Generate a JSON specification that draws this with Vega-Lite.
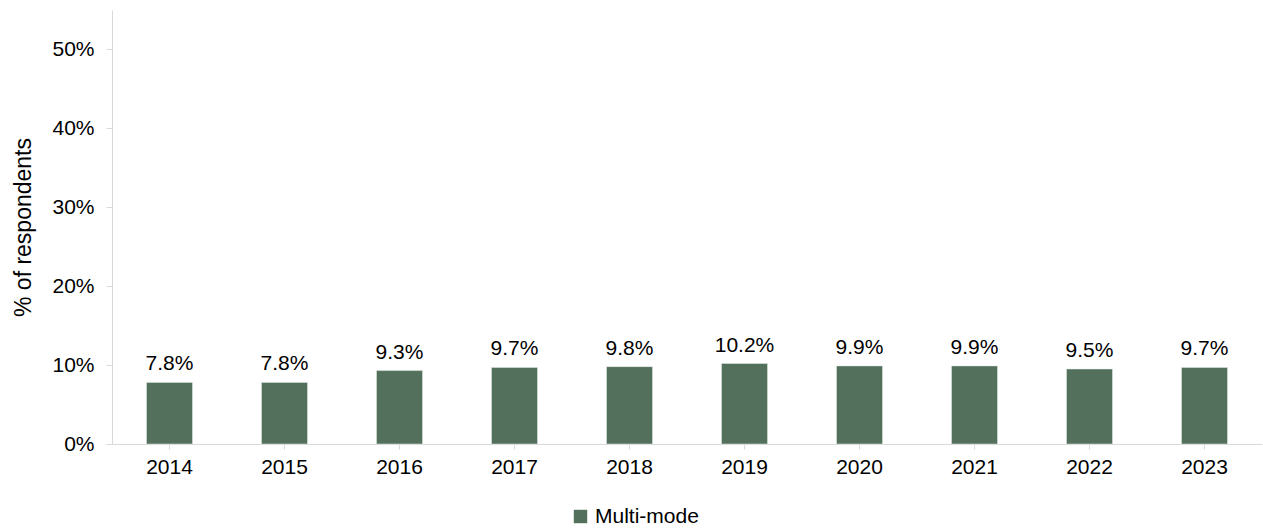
{
  "$schema": "https://vega.github.io/schema/vega-lite/v6.json",
  "width": 1150,
  "height": 434,
  "autosize": {"type": "none"},
  "padding": {"left": 112, "top": 10, "right": 1, "bottom": 86},
  "background": "white",
  "config": {
    "view": {"stroke": null},
    "font": "Liberation Sans",
    "axis": {"grid": false, "domainColor": "#d9d9d9", "tickColor": "#d9d9d9", "labelColor": "#000", "titleColor": "#000", "labelFontSize": 21, "titleFontSize": 23, "titleFontWeight": "normal"}
  },
  "data": {
    "values": [
      {"year": "2014", "value": 0.078, "series": "Multi-mode"},
      {"year": "2015", "value": 0.078, "series": "Multi-mode"},
      {"year": "2016", "value": 0.093, "series": "Multi-mode"},
      {"year": "2017", "value": 0.097, "series": "Multi-mode"},
      {"year": "2018", "value": 0.098, "series": "Multi-mode"},
      {"year": "2019", "value": 0.102, "series": "Multi-mode"},
      {"year": "2020", "value": 0.099, "series": "Multi-mode"},
      {"year": "2021", "value": 0.099, "series": "Multi-mode"},
      {"year": "2022", "value": 0.095, "series": "Multi-mode"},
      {"year": "2023", "value": 0.097, "series": "Multi-mode"}
    ]
  },
  "encoding": {
    "x": {
      "field": "year", "type": "ordinal",
      "scale": {"paddingInner": 0.6, "paddingOuter": 0.3},
      "axis": {"title": null, "labelAngle": 0, "tickSize": 5, "labelPadding": 7}
    },
    "y": {
      "field": "value", "type": "quantitative",
      "scale": {"domain": [0, 0.55], "nice": false},
      "axis": {"title": "% of respondents", "format": ".0%", "values": [0, 0.1, 0.2, 0.3, 0.4, 0.5], "tickSize": 6, "labelPadding": 12, "titlePadding": 16}
    }
  },
  "layer": [
    {
      "mark": {"type": "bar", "stroke": "#e6ece8", "strokeWidth": 0.5},
      "encoding": {
        "color": {
          "field": "series", "type": "nominal",
          "scale": {"range": ["#52705c"]},
          "legend": {"title": null, "orient": "none", "legendX": 458, "legendY": 496, "symbolType": "square", "symbolSize": 180, "labelFontSize": 21, "labelColor": "#000", "symbolStrokeWidth": 0, "labelOffset": 4}
        }
      }
    },
    {
      "mark": {"type": "text", "baseline": "alphabetic", "dy": -12, "fontSize": 21, "color": "#000"},
      "encoding": {"text": {"field": "value", "type": "quantitative", "format": ".1%"}}
    }
  ]
}
